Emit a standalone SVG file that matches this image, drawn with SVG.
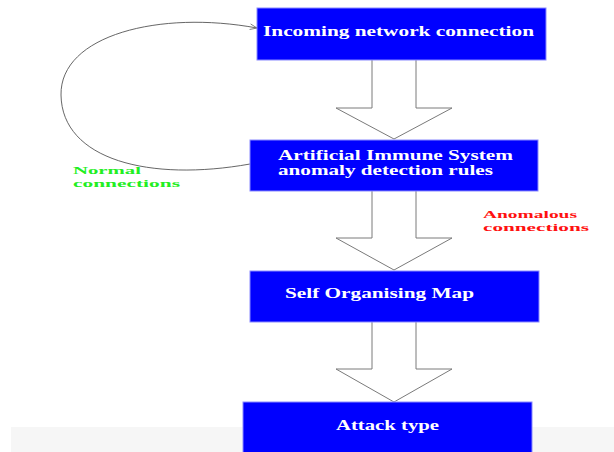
<svg xmlns="http://www.w3.org/2000/svg" width="614" height="452" viewBox="0 0 614 452">
  <style>
    .box { fill: #0000ff; stroke: #8a8aff; stroke-width: 1; }
    .lbl { font-family: "Liberation Serif", "Times New Roman", serif; font-weight: bold; font-size: 14px; fill: #ffffff; }
    .note { font-family: "Liberation Serif", "Times New Roman", serif; font-weight: bold; font-size: 11px; }
    .flow { fill: #ffffff; stroke: #7a7a7a; stroke-width: 1; }
    .loop { fill: none; stroke: #555555; stroke-width: 0.9; }
  </style>
  <defs>
    <marker id="head" viewBox="0 0 10 10" refX="10" refY="5" markerWidth="9" markerHeight="7" orient="auto" markerUnits="userSpaceOnUse">
      <path d="M0,1 L10,5 L0,9" fill="none" stroke="#555555" stroke-width="1"/>
    </marker>
  </defs>
  <rect width="614" height="452" fill="#ffffff"/>
  <rect x="11" y="427" width="603" height="25" fill="#f6f6f6"/>

  <g id="connectors">
    <!-- hollow block arrows between stages -->
    <path class="flow" d="M372,60 L372,108 L336,108 L394,139 L452,108 L416,108 L416,60"/>
    <path class="flow" d="M372,191 L372,238 L336,238 L394,270 L452,238 L416,238 L416,191"/>
    <path class="flow" d="M372,322 L372,369 L336,369 L394,402 L452,369 L416,369 L416,322"/>
    <!-- feedback loop for normal traffic -->
    <path class="loop" marker-end="url(#head)" d="M250,164 C150,182 62,160 61,95 C60,35 160,10 257,28"/>
  </g>

  <g id="incoming">
    <rect class="box" x="257" y="8" width="289" height="52"/>
    <text class="lbl" x="263" y="36" textLength="271" lengthAdjust="spacingAndGlyphs">Incoming network connection</text>
  </g>

  <g id="ais">
    <rect class="box" x="250" y="140" width="288" height="51"/>
    <text class="lbl" x="278" y="160" textLength="235" lengthAdjust="spacingAndGlyphs">Artificial Immune System</text>
    <text class="lbl" x="278" y="175" textLength="215" lengthAdjust="spacingAndGlyphs">anomaly detection rules</text>
  </g>

  <g id="som">
    <rect class="box" x="250" y="271" width="289" height="51"/>
    <text class="lbl" x="285" y="298" textLength="189" lengthAdjust="spacingAndGlyphs">Self Organising Map</text>
  </g>

  <g id="attack">
    <rect class="box" x="243" y="402" width="289" height="52"/>
    <text class="lbl" x="336" y="430" textLength="103" lengthAdjust="spacingAndGlyphs">Attack type</text>
  </g>

  <g id="normal-label">
    <text class="note" fill="#22ee22" x="73" y="174" textLength="68" lengthAdjust="spacingAndGlyphs">Normal</text>
    <text class="note" fill="#22ee22" x="73" y="187" textLength="107" lengthAdjust="spacingAndGlyphs">connections</text>
  </g>

  <g id="anomalous-label">
    <text class="note" fill="#ff1010" x="483" y="218" textLength="94" lengthAdjust="spacingAndGlyphs">Anomalous</text>
    <text class="note" fill="#ff1010" x="483" y="231" textLength="106" lengthAdjust="spacingAndGlyphs">connections</text>
  </g>
</svg>
